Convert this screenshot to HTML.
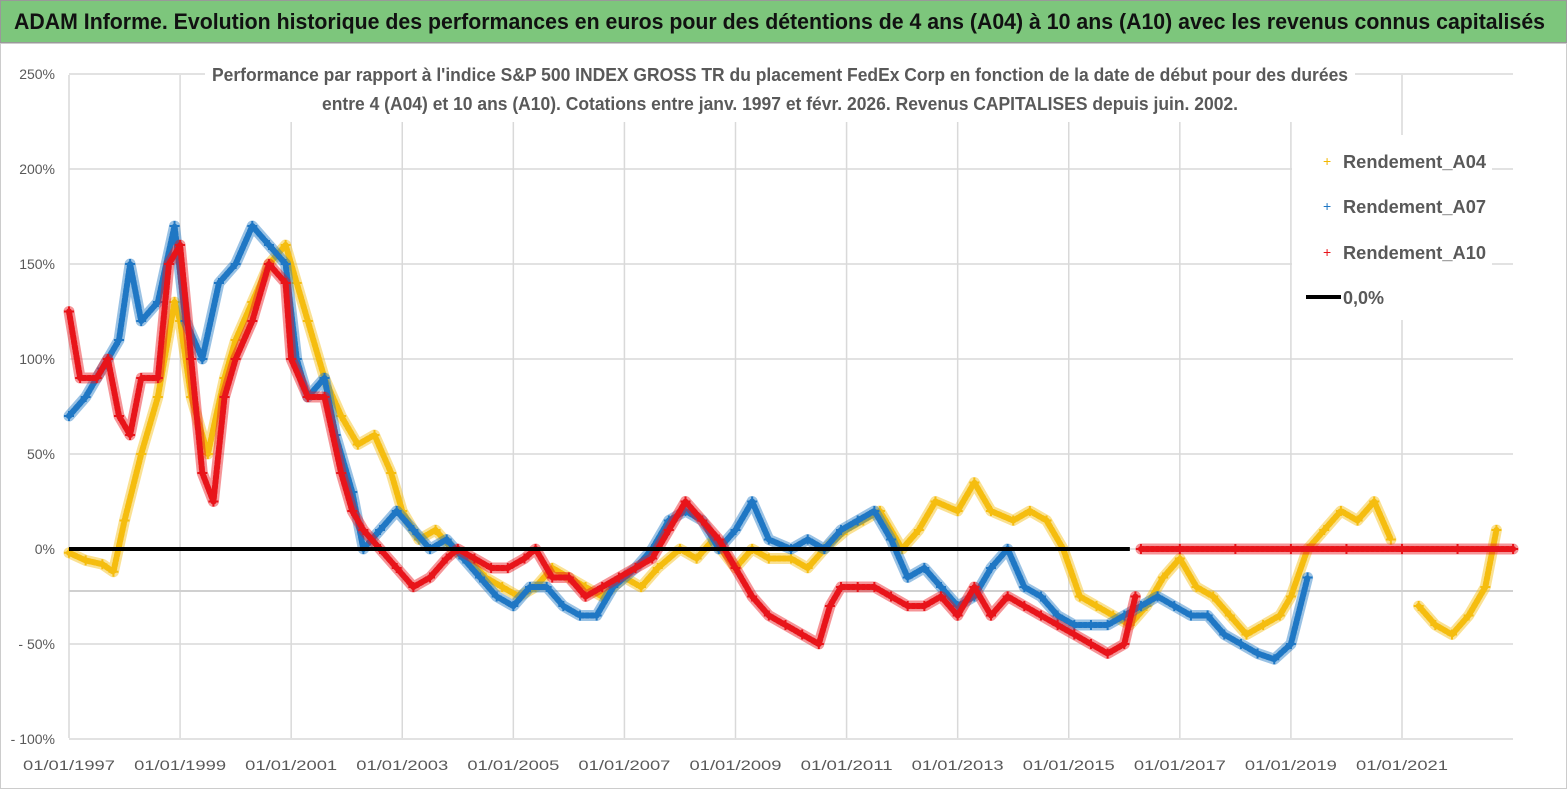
<!DOCTYPE html>
<html><head><meta charset="utf-8"><style>
html,body{margin:0;padding:0;background:#fff;width:1567px;height:790px;overflow:hidden}
svg{display:block}
text{font-family:"Liberation Sans",sans-serif}
</style></head><body>
<svg id="chart" width="1567" height="790">
<rect x="0" y="0" width="1567" height="790" fill="#fff"/>
<rect x="0.5" y="0.5" width="1566" height="42" fill="#7dc67c" stroke="#999"/>
<text x="14" y="29" font-size="22" font-weight="bold" fill="#111" textLength="1531" lengthAdjust="spacingAndGlyphs">ADAM Informe. Evolution historique des performances en euros pour des détentions de 4 ans (A04) à 10 ans (A10) avec les revenus connus capitalisés</text>
<rect x="0.5" y="43.5" width="1566" height="745" fill="none" stroke="#ccc"/>
<g id="grid"></g>
<g id="axes"></g>
<g id="series"></g>
<rect x="205" y="58" width="1150" height="64" fill="#fff"/>
<text x="780" y="81" font-size="18" font-weight="bold" fill="#595959" text-anchor="middle" textLength="1136" lengthAdjust="spacingAndGlyphs">Performance par rapport à l'indice S&amp;P 500 INDEX GROSS TR  du placement FedEx Corp en fonction de la date de début pour des durées</text>
<text x="780" y="110" font-size="18" font-weight="bold" fill="#595959" text-anchor="middle" textLength="916" lengthAdjust="spacingAndGlyphs">entre 4 (A04) et 10 ans (A10). Cotations entre janv. 1997 et févr. 2026. Revenus CAPITALISES depuis juin. 2002.</text>
<g>
<rect x="1292" y="135" width="200" height="185" fill="#fff"/>
<g><text x="1323" y="166" font-size="14" fill="#f2b800">+</text><text x="1343" y="168" font-size="18" font-weight="bold" fill="#595959" textLength="143" lengthAdjust="spacingAndGlyphs">Rendement_A04</text></g>
<g><text x="1323" y="211" font-size="14" fill="#1f77c4">+</text><text x="1343" y="213" font-size="18" font-weight="bold" fill="#595959" textLength="143" lengthAdjust="spacingAndGlyphs">Rendement_A07</text></g>
<g><text x="1323" y="257" font-size="14" fill="#e8141a">+</text><text x="1343" y="259" font-size="18" font-weight="bold" fill="#595959" textLength="143" lengthAdjust="spacingAndGlyphs">Rendement_A10</text></g>
<g><line x1="1306" y1="297" x2="1341" y2="297" stroke="#000" stroke-width="4"/><text x="1343" y="304" font-size="18" font-weight="bold" fill="#595959">0,0%</text></g>
</g>
</svg>
<script>
const yTicks=[250,200,150,100,50,0,-50,-100];
const yTickLabels=["250%","200%","150%","100%","50%","0%","- 50%","- 100%"];
const xTickYears=[1997,1999,2001,2003,2005,2007,2009,2011,2013,2015,2017,2019,2021];
const xTickLabels=["01/01/1997","01/01/1999","01/01/2001","01/01/2003","01/01/2005","01/01/2007","01/01/2009","01/01/2011","01/01/2013","01/01/2015","01/01/2017","01/01/2019","01/01/2021"];
const a04Dates=[1997.0,1997.3,1997.6,1997.8,1998.0,1998.3,1998.6,1998.9,1999.0,1999.2,1999.5,1999.8,2000.0,2000.3,2000.6,2000.9,2001.1,2001.3,2001.6,2001.9,2002.2,2002.5,2002.8,2003.0,2003.3,2003.6,2003.9,2004.2,2004.5,2004.8,2005.1,2005.4,2005.7,2006.0,2006.3,2006.6,2007.0,2007.3,2007.6,2008.0,2008.3,2008.6,2009.0,2009.3,2009.6,2010.0,2010.3,2010.6,2011.0,2011.3,2011.6,2012.0,2012.3,2012.6,2013.0,2013.3,2013.6,2014.0,2014.3,2014.6,2014.9,2015.2,2015.5,2015.8,2016.1,2016.4,2016.7,2017.0,2017.3,2017.6,2017.9,2018.2,2018.5,2018.8,2019.0,2019.3,2019.6,2019.9,2020.2,2020.5,2020.8];
const a04Values=[-2,-6,-8,-12,15,50,80,130,120,80,50,90,110,130,150,160,140,120,90,70,55,60,40,20,5,10,0,-5,-15,-20,-25,-20,-10,-15,-20,-25,-15,-20,-10,0,-5,5,-10,0,-5,-5,-10,0,10,15,20,0,10,25,20,35,20,15,20,15,0,-25,-30,-35,-40,-30,-15,-5,-20,-25,-35,-45,-40,-35,-25,0,10,20,15,25,5];
const a04bDates=[2021.3,2021.6,2021.9,2022.2,2022.5,2022.7];
const a04bValues=[-30,-40,-45,-35,-20,10];
const a07Dates=[1997.0,1997.3,1997.6,1997.9,1998.1,1998.3,1998.6,1998.9,1999.1,1999.4,1999.7,2000.0,2000.3,2000.6,2000.9,2001.1,2001.3,2001.6,2001.8,2002.1,2002.3,2002.6,2002.9,2003.2,2003.5,2003.8,2004.1,2004.4,2004.7,2005.0,2005.3,2005.6,2005.9,2006.2,2006.5,2006.8,2007.2,2007.5,2007.8,2008.1,2008.4,2008.7,2009.0,2009.3,2009.6,2010.0,2010.3,2010.6,2010.9,2011.2,2011.5,2011.8,2012.1,2012.4,2012.7,2013.0,2013.3,2013.6,2013.9,2014.2,2014.5,2014.8,2015.1,2015.4,2015.7,2016.0,2016.3,2016.6,2016.9,2017.2,2017.5,2017.8,2018.1,2018.4,2018.7,2019.0,2019.3];
const a07Values=[70,80,95,110,150,120,130,170,120,100,140,150,170,160,150,100,80,90,60,30,0,10,20,10,0,5,-5,-15,-25,-30,-20,-20,-30,-35,-35,-20,-10,0,15,20,15,0,10,25,5,0,5,0,10,15,20,5,-15,-10,-20,-30,-25,-10,0,-20,-25,-35,-40,-40,-40,-35,-30,-25,-30,-35,-35,-45,-50,-55,-58,-50,-15];
const a10Dates=[1997.0,1997.2,1997.5,1997.7,1997.9,1998.1,1998.3,1998.6,1998.8,1999.0,1999.2,1999.4,1999.6,1999.8,2000.0,2000.3,2000.6,2000.9,2001.0,2001.3,2001.6,2001.9,2002.1,2002.3,2002.6,2002.9,2003.2,2003.5,2003.8,2004.0,2004.3,2004.6,2004.9,2005.2,2005.4,2005.7,2006.0,2006.3,2006.6,2006.9,2007.2,2007.5,2007.8,2008.1,2008.4,2008.7,2009.0,2009.3,2009.6,2009.9,2010.2,2010.5,2010.7,2010.9,2011.2,2011.5,2011.8,2012.1,2012.4,2012.7,2013.0,2013.3,2013.6,2013.9,2014.2,2014.5,2014.8,2015.1,2015.4,2015.7,2016.0,2016.2];
const a10Values=[125,90,90,100,70,60,90,90,150,160,100,40,25,80,100,120,150,140,100,80,80,40,20,10,0,-10,-20,-15,-5,0,-5,-10,-10,-5,0,-15,-15,-25,-20,-15,-10,-5,10,25,15,5,-10,-25,-35,-40,-45,-50,-30,-20,-20,-20,-25,-30,-30,-25,-35,-20,-35,-25,-30,-35,-40,-45,-50,-55,-50,-25];
const a10bDates=[2016.3,2017,2018,2019,2020,2021,2022,2023.0];
const a10bValues=[0,0,0,0,0,0,0,0];

const NS="http://www.w3.org/2000/svg";
const L=69,R=1513,T=75,B=738;
const X=yr=>L+(yr-1997)*(1402-69)/24;
const Y=v=>549-v*1.9;
function mk(tag,attrs,parent){const e=document.createElementNS(NS,tag);for(const k in attrs)e.setAttribute(k,attrs[k]);parent.appendChild(e);return e;}
const grid=document.getElementById('grid'),axes=document.getElementById('axes'),ser=document.getElementById('series');
yTicks.forEach((v,i)=>{
  const ln=mk('line',{x1:L,x2:R,y1:Y(v),y2:Y(v),stroke:'#d9d9d9','stroke-width':1.5},grid);
  
  
  const t=mk('text',{x:55,y:Y(v)+5,'font-size':14,fill:'#595959','text-anchor':'end'},axes);
  t.textContent=yTickLabels[i];
  
  
});
xTickYears.forEach((yr,i)=>{
  const ln=mk('line',{x1:X(yr),x2:X(yr),y1:T,y2:B,stroke:'#d9d9d9','stroke-width':1.5},grid);
  
  
  const t=mk('text',{x:X(yr),y:770,'font-size':14,fill:'#595959','text-anchor':'middle',textLength:92,lengthAdjust:'spacingAndGlyphs'},axes);
  t.textContent=xTickLabels[i];
  
  
});
const xa=mk('line',{x1:L,x2:R,y1:591,y2:591,stroke:'#d0d0d0','stroke-width':2},grid);


function drawSeries(dates,vals,color,name){
  const g=mk('g',{},ser);
  
  
  const pts=dates.map((d,i)=>X(d)+','+Y(vals[i])).join(' ');
  mk('polyline',{points:pts,fill:'none',stroke:color,'stroke-width':11,'stroke-opacity':0.45,'stroke-linejoin':'round','stroke-linecap':'round'},g);
  mk('polyline',{points:pts,fill:'none',stroke:color,'stroke-width':6,'stroke-linejoin':'round','stroke-linecap':'round','stroke-dasharray':'3 2'},g);
  dates.forEach((d,i)=>{
    const p=mk('path',{d:`M${X(d)-5},${Y(vals[i])}h10M${X(d)},${Y(vals[i])-5}v10`,stroke:color,'stroke-width':2},g);
    
    
  });
}
drawSeries(a04Dates,a04Values,'#f5bd0f','series-a04');
drawSeries(a04bDates,a04bValues,'#f5bd0f','series-a04-late');
drawSeries(a07Dates,a07Values,'#1f77c4','series-a07');
drawSeries(a10Dates,a10Values,'#e8141a','series-a10');
const z=mk('line',{x1:L,x2:X(2016.1),y1:Y(0),y2:Y(0),stroke:'#000','stroke-width':4},ser);


drawSeries(a10bDates,a10bValues,'#e8141a','series-a10-zero');
</script>
</body></html>
